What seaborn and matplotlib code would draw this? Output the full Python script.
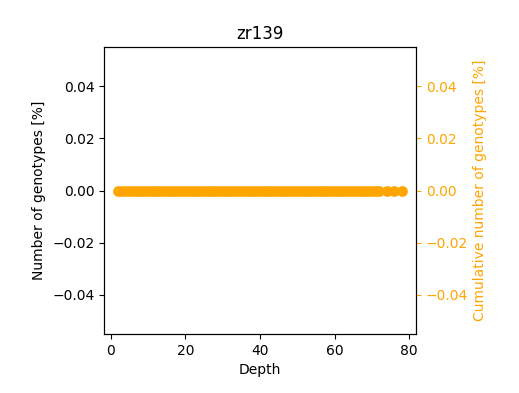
import numpy as np
import pandas as pd
import matplotlib
matplotlib.use("Agg")
import matplotlib.pyplot as plt
import seaborn as sns

depths = list(range(2, 73)) + [74, 76, 78]
counts = [0.0] * len(depths)
cumulative = [0.0] * len(depths)

df = pd.DataFrame({"Depth": depths, "count": counts, "cum": cumulative})

plt.rcParams['font.family'] = ['DejaVu Sans']

fig = plt.figure(figsize=(5.19, 3.93), dpi=100)
ax = fig.add_axes([0.2004, 0.150, 0.601, 0.730])
ax2 = ax.twinx()

sns.lineplot(data=df, x="Depth", y="count", ax=ax, color="black", marker="o",
             markersize=6.5, markeredgewidth=0, linewidth=1.5)
sns.scatterplot(data=df, x="Depth", y="cum", ax=ax2, color="orange", s=60,
                linewidth=0, zorder=3)

ax.set_xlabel("Depth")
ax.set_ylabel("Number of genotypes [%]")
ax2.set_ylabel("Cumulative number of genotypes [%]", color="orange")
ax2.tick_params(axis="y", colors="orange")
ax.set_title("zr139")

fig.savefig("out.png", dpi=100)
